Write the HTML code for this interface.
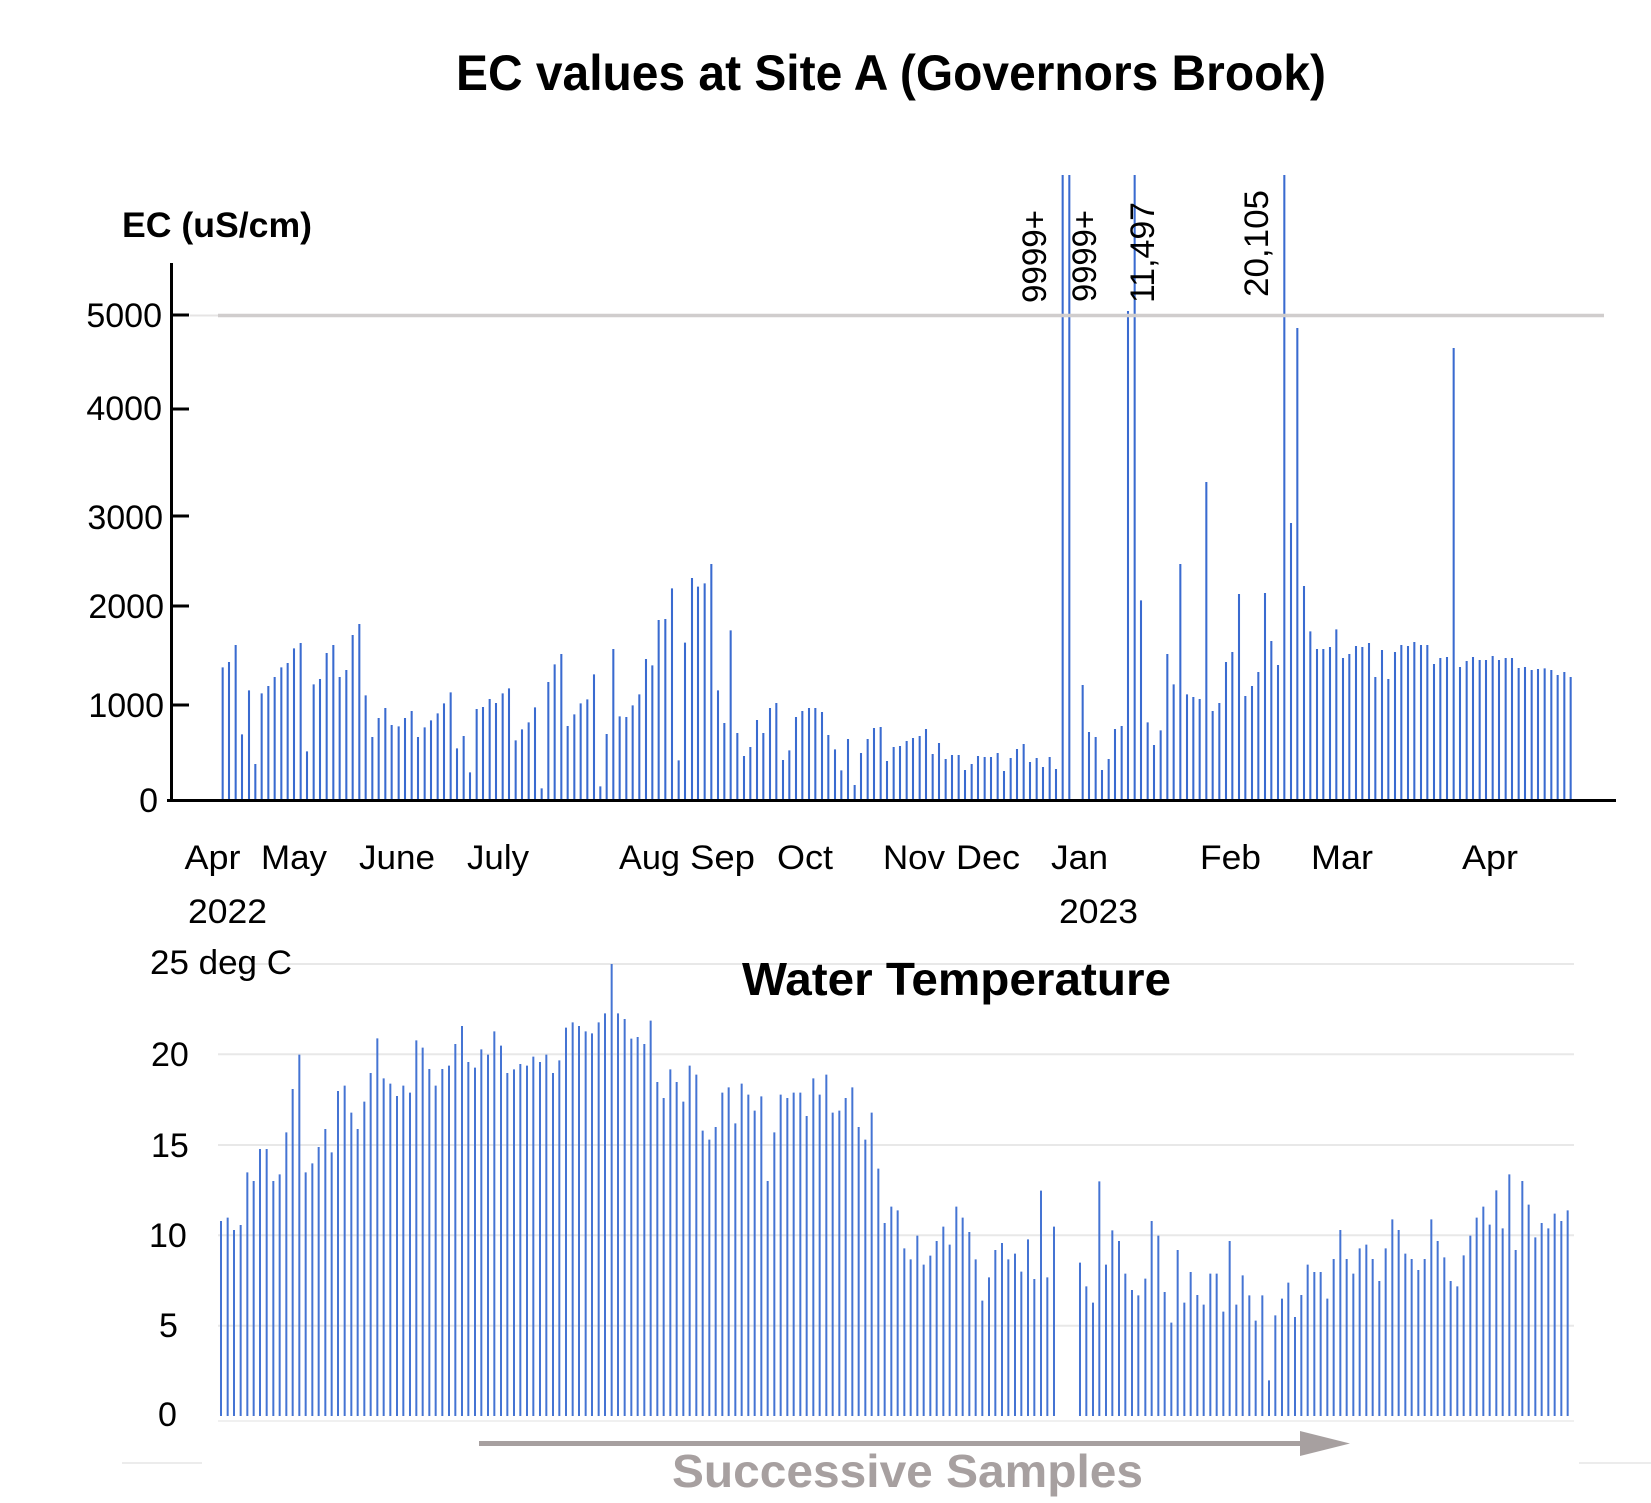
<!DOCTYPE html>
<html>
<head>
<meta charset="utf-8">
<style>
html,body{margin:0;padding:0;background:#fff;}
svg{display:block;}
text{font-family:"Liberation Sans",Arial,sans-serif;}
</style>
</head>
<body>
<svg width="1651" height="1503" viewBox="0 0 1651 1503" xmlns="http://www.w3.org/2000/svg">
<rect width="1651" height="1503" fill="#fff"/>

<!-- Title -->
<text x="456" y="90" font-size="50" font-weight="bold" fill="#000" textLength="870" lengthAdjust="spacingAndGlyphs">EC values at Site A (Governors Brook)</text>

<!-- EC axis label -->
<text x="122" y="237" font-size="35" font-weight="bold" fill="#000" textLength="190" lengthAdjust="spacingAndGlyphs">EC (uS/cm)</text>

<!-- EC tick labels -->
<g font-size="34" fill="#000" text-anchor="end">
<text x="162" y="327">5000</text>
<text x="162" y="420">4000</text>
<text x="163" y="529">3000</text>
<text x="164" y="618">2000</text>
<text x="164" y="717">1000</text>
<text x="158" y="812">0</text>
</g>

<!-- EC bars -->
<g stroke="#3a6bd0" stroke-width="6.2" fill="none">
<path transform="translate(210 580) scale(0.33333)" d="M38 262V660M57 246V660M77 195V660M96 463V660M117 331V660M136 552V660M155 340V660M175 318V660M194 291V660M214 262V660M233 249V660M252 205V660M272 189V660M291 514V660M311 313V660M330 297V660M350 219V660M370 195V660M389 291V660M409 270V660M428 165V660M448 132V660M467 346V660M487 471V660M506 414V660M526 384V660M545 435V660M566 439V660M585 414V660M605 393V660M624 471V660M644 442V660M663 421V660M683 400V660M702 370V660M722 337V660M741 505V660M761 468V660M780 577V660M800 387V660M819 381V660M839 357V660M858 369V660M878 340V660M897 325V660M917 481V660M936 448V660M956 427V660M975 382V660M995 625V660M1015 306V660M1034 253V660M1054 222V660M1073 438V660M1093 403V660M1112 370V660M1132 358V660M1152 283V660M1171 619V660M1190 462V660M1210 207V660M1229 409V660M1249 411V660M1268 376V660M1288 343V660M1308 237V660M1327 256V660M1346 120V660M1366 117V660M1386 25V660M1406 541V660"/>
<path transform="translate(670 580) scale(0.33333)" d="M45 188V660M66 -6V660M84 20V660M104 10V660M124 -48V660M144 331V660M163 429V660M182 151V660M202 459V660M222 528V660M241 501V660M261 420V660M280 459V660M300 384V660M319 369V660M339 540V660M358 511V660M378 411V660M397 393V660M417 384V660M436 384V660M456 396V660M475 465V660M495 508V660M514 571V660M534 477V660M554 615V660M573 519V660M593 477V660M612 444V660M632 441V660M651 543V660M671 501V660M690 498V660M710 483V660M729 474V660M749 468V660M768 447V660M788 522V660M807 489V660M827 537V660M846 525V660M866 525V660M885 570V660M905 552V660M924 528V660M944 531V660M963 531V660M983 519V660M1002 573V660M1022 534V660M1041 507V660M1061 492V660M1080 546V660M1100 534V660M1119 561V660M1139 531V660M1158 567V660M1178 -1215V660M1198 -1215V660M1238 315V660M1257 456V660M1277 471V660M1296 570V660M1316 537V660M1335 447V660M1355 438V660M1374 -807V660M1394 -1215V660"/>
<path transform="translate(1130 580) scale(0.33333)" d="M33 61V660M53 427V660M72 495V660M92 451V660M112 222V660M131 313V660M151 -48V660M171 343V660M190 351V660M209 357V660M229 -294V660M248 393V660M268 369V660M288 246V660M307 216V660M327 42V660M346 348V660M366 318V660M385 276V660M405 39V660M424 183V660M444 255V660M463 -1215V660M483 -171V660M502 -756V660M522 18V660M541 154V660M561 207V660M580 207V660M600 201V660M619 148V660M639 234V660M658 222V660M678 198V660M697 201V660M717 189V660M736 291V660M756 210V660M775 297V660M795 216V660M814 195V660M834 198V660M853 186V660M873 195V660M892 195V660M912 252V660M931 234V660M951 231V660M971 -696V660M990 261V660M1010 243V660M1029 231V660M1049 240V660M1068 240V660M1088 228V660M1107 240V660M1127 234V660M1146 234V660M1166 264V660M1185 261V660M1205 270V660M1224 267V660M1244 265V660M1264 270V660M1283 285V660M1303 276V660M1322 291V660"/>
</g>

<!-- 5000 grey line -->
<line x1="190" y1="315.5" x2="218" y2="315.5" stroke="#e6e4e4" stroke-width="2"/>
<line x1="218" y1="315.5" x2="1604" y2="315.5" stroke="#d0cdcd" stroke-width="3.5"/>

<!-- EC axes -->
<g stroke="#000" stroke-width="3" fill="none">
<line x1="171.5" y1="263" x2="171.5" y2="802"/>
<line x1="171" y1="315" x2="189" y2="315"/>
<line x1="171" y1="409" x2="189" y2="409"/>
<line x1="171" y1="516" x2="189" y2="516"/>
<line x1="171" y1="606" x2="189" y2="606"/>
<line x1="171" y1="705" x2="189" y2="705"/>
<line x1="167" y1="800.5" x2="1616" y2="800.5"/>
</g>

<!-- Spike labels -->
<g font-size="34" fill="#000">
<text transform="translate(1046 303) rotate(-90)" textLength="93" lengthAdjust="spacingAndGlyphs">9999+</text>
<text transform="translate(1096 302) rotate(-90)" textLength="92" lengthAdjust="spacingAndGlyphs">9999+</text>
<text transform="translate(1154 303) rotate(-90)" textLength="101" lengthAdjust="spacingAndGlyphs">11,497</text>
<text transform="translate(1268 297) rotate(-90)" textLength="107" lengthAdjust="spacingAndGlyphs">20,105</text>
</g>

<!-- Month labels -->
<g font-size="34" fill="#000">
<text x="184.5" y="869" textLength="56" lengthAdjust="spacingAndGlyphs">Apr</text>
<text x="261" y="869" textLength="66" lengthAdjust="spacingAndGlyphs">May</text>
<text x="359" y="869" textLength="76" lengthAdjust="spacingAndGlyphs">June</text>
<text x="467" y="869" textLength="62" lengthAdjust="spacingAndGlyphs">July</text>
<text x="619" y="869" textLength="61" lengthAdjust="spacingAndGlyphs">Aug</text>
<text x="690" y="869" textLength="65" lengthAdjust="spacingAndGlyphs">Sep</text>
<text x="777" y="869" textLength="56" lengthAdjust="spacingAndGlyphs">Oct</text>
<text x="883" y="869" textLength="62" lengthAdjust="spacingAndGlyphs">Nov</text>
<text x="956" y="869" textLength="64" lengthAdjust="spacingAndGlyphs">Dec</text>
<text x="1051" y="869" textLength="57" lengthAdjust="spacingAndGlyphs">Jan</text>
<text x="1200" y="869" textLength="61" lengthAdjust="spacingAndGlyphs">Feb</text>
<text x="1311" y="869" textLength="62" lengthAdjust="spacingAndGlyphs">Mar</text>
<text x="1462" y="869" textLength="56" lengthAdjust="spacingAndGlyphs">Apr</text>
<text x="188" y="923" textLength="79" lengthAdjust="spacingAndGlyphs">2022</text>
<text x="1059" y="923" textLength="79" lengthAdjust="spacingAndGlyphs">2023</text>
</g>

<!-- Temperature gridlines -->
<g stroke="#e8e8e8" stroke-width="2">
<line x1="218" y1="964" x2="1574" y2="964"/>
<line x1="218" y1="1054.3" x2="1574" y2="1054.3"/>
<line x1="218" y1="1145" x2="1574" y2="1145"/>
<line x1="218" y1="1235.3" x2="1574" y2="1235.3"/>
<line x1="218" y1="1325.7" x2="1574" y2="1325.7"/>
</g>
<line x1="218" y1="1421" x2="1574" y2="1421" stroke="#f0f0f0" stroke-width="2"/>

<!-- Temperature labels -->
<g font-size="34" fill="#000">
<text x="150" y="974" textLength="142" lengthAdjust="spacingAndGlyphs">25 deg C</text>
<text x="151" y="1066">20</text>
<text x="151" y="1157">15</text>
<text x="149" y="1247">10</text>
<text x="159" y="1337">5</text>
<text x="158" y="1426">0</text>
</g>

<!-- Water Temperature title -->
<text x="742" y="995" font-size="46" font-weight="bold" fill="#000" textLength="429" lengthAdjust="spacingAndGlyphs">Water Temperature</text>

<!-- Temperature bars -->
<g stroke="#4574d3" stroke-width="6" fill="none">
<path transform="translate(210 950) scale(0.33333)" d="M33 813V1398M53 803V1398M72 840V1398M92 825V1398M112 667V1398M131 693V1398M150 597V1398M170 597V1398M190 693V1398M209 673V1398M229 547V1398M248 417V1398M268 314V1398M287 667V1398M307 640V1398M326 591V1398M346 537V1398M365 607V1398M384 423V1398M404 407V1398M424 488V1398M443 537V1398M463 455V1398M482 369V1398M502 265V1398M521 385V1398M541 401V1398M561 438V1398M580 407V1398M600 428V1398M619 271V1398M638 293V1398M658 357V1398M677 407V1398M697 357V1398M717 347V1398M736 282V1398M756 228V1398M775 336V1398M795 353V1398M814 298V1398M834 314V1398M853 244V1398M873 287V1398M892 369V1398M912 358V1398M931 342V1398M951 347V1398M970 320V1398M990 336V1398M1009 314V1398M1029 369V1398M1048 331V1398M1068 233V1398M1088 217V1398M1107 228V1398M1127 244V1398M1146 250V1398M1166 217V1398M1185 190V1398M1205 42V1398M1224 190V1398M1244 207V1398M1264 266V1398M1283 261V1398M1303 282V1398M1322 212V1398M1342 396V1398M1361 444V1398M1381 358V1398M1400 396V1398"/>
<path transform="translate(670 950) scale(0.33333)" d="M40 455V1398M59 347V1398M79 374V1398M98 542V1398M118 569V1398M137 531V1398M157 428V1398M176 412V1398M196 520V1398M215 401V1398M235 434V1398M254 482V1398M274 439V1398M293 693V1398M313 547V1398M332 434V1398M352 444V1398M371 428V1398M391 428V1398M410 498V1398M430 385V1398M449 434V1398M469 374V1398M488 488V1398M508 482V1398M527 444V1398M547 412V1398M566 531V1398M586 569V1398M605 488V1398M625 656V1398M644 819V1398M664 770V1398M683 781V1398M703 895V1398M722 928V1398M742 857V1398M761 944V1398M781 917V1398M800 873V1398M820 830V1398M839 884V1398M859 770V1398M878 803V1398M898 846V1398M917 928V1398M937 1052V1398M957 982V1398M976 900V1398M996 879V1398M1015 928V1398M1035 911V1398M1054 965V1398M1074 868V1398M1093 987V1398M1113 722V1398M1132 982V1398M1152 830V1398M1230 938V1398M1249 1009V1398M1269 1058V1398M1288 694V1398M1308 944V1398M1327 841V1398M1347 873V1398M1366 971V1398M1386 1020V1398M1405 1036V1398"/>
<path transform="translate(1130 1150) scale(0.33333)" d="M46 386V798M65 213V798M85 257V798M104 426V798M124 518V798M143 300V798M163 458V798M182 366V798M202 435V798M221 464V798M241 371V798M260 371V798M280 485V798M299 273V798M319 464V798M338 376V798M358 436V798M377 512V798M397 436V798M417 691V798M436 496V798M456 446V798M475 398V798M495 501V798M514 435V798M533 344V798M553 366V798M572 366V798M592 446V798M611 327V798M631 240V798M650 327V798M670 371V798M689 295V798M709 284V798M728 327V798M748 393V798M767 295V798M787 208V798M806 240V798M826 311V798M845 327V798M865 360V798M884 327V798M904 208V798M923 273V798M943 322V798M962 393V798M982 409V798M1001 316V798M1021 257V798M1040 203V798M1060 170V798M1079 224V798M1099 121V798M1118 235V798M1138 73V798M1157 300V798M1177 93V798M1196 164V798M1216 262V798M1235 219V798M1255 235V798M1274 191V798M1294 213V798M1313 181V798"/>
</g>

<!-- faint bottom lines -->
<g stroke="#ececec" stroke-width="2">
<line x1="122" y1="1463" x2="202" y2="1463"/>
<line x1="1579" y1="1463" x2="1651" y2="1463"/>
</g>

<!-- Arrow -->
<line x1="479" y1="1443.5" x2="1302" y2="1443.5" stroke="#a7a0a0" stroke-width="5"/>
<polygon points="1300,1431 1350,1443.5 1300,1456" fill="#a7a0a0"/>

<!-- Successive Samples -->
<text x="672" y="1487" font-size="46" font-weight="bold" fill="#a7a0a0" textLength="471" lengthAdjust="spacingAndGlyphs">Successive Samples</text>
</svg>
</body>
</html>
